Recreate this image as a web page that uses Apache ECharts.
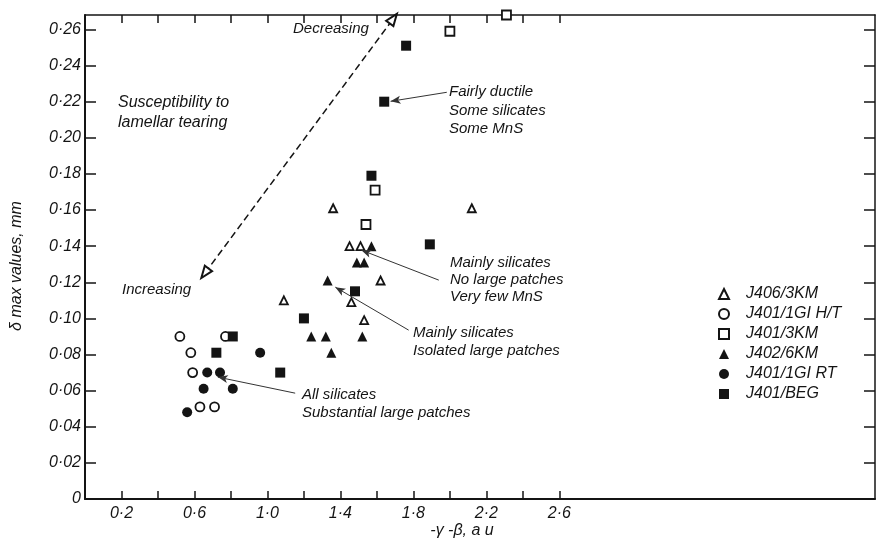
<!DOCTYPE html>
<html><head><meta charset="utf-8">
<script src="https://cdn.jsdelivr.net/npm/echarts@6/dist/echarts.min.js"></script>
<style>html,body{margin:0;padding:0;background:#fff}#c{width:882px;height:541px}</style>
</head><body><div id="c"></div>
<script>
// ---- data ----
const seriesNames = ['J406/3KM', 'J401/1GI H/T', 'J401/3KM', 'J402/6KM', 'J401/1GI RT', 'J401/BEG'];
const j406_3KM = [[1.36,0.161],[2.12,0.161],[1.45,0.140],[1.51,0.140],[1.62,0.121],[1.46,0.109],[1.09,0.110],[1.53,0.099]];
const j401_1GI_HT = [[0.52,0.090],[0.77,0.090],[0.58,0.081],[0.59,0.070],[0.63,0.051],[0.71,0.051]];
const j401_3KM = [[2.31,0.268],[2.00,0.259],[1.59,0.171],[1.54,0.152]];
const j402_6KM = [[1.57,0.140],[1.49,0.131],[1.53,0.131],[1.33,0.121],[1.24,0.090],[1.32,0.090],[1.52,0.090],[1.35,0.081]];
const j401_1GI_RT = [[0.96,0.081],[0.67,0.070],[0.74,0.070],[0.65,0.061],[0.81,0.061],[0.56,0.048]];
const j401_BEG = [[1.76,0.251],[1.64,0.220],[1.57,0.179],[1.89,0.141],[1.48,0.115],[1.20,0.100],[0.81,0.090],[0.72,0.081],[1.07,0.070]];
const xTickValues = [0.2,0.4,0.6,0.8,1.0,1.2,1.4,1.6,1.8,2.0,2.2,2.4,2.6];
const xLabelValues = [0.2,0.6,1.0,1.4,1.8,2.2,2.6];
const yTickValues = [0,0.02,0.04,0.06,0.08,0.10,0.12,0.14,0.16,0.18,0.20,0.22,0.24,0.26];
// annotation arrows (data coordinates)
const trendArrow = [[0.657,0.125],[1.69,0.266]];
const calloutArrows = [
  [[1.983,0.2252],[1.675,0.2202]],
  [[1.939,0.1212],[1.515,0.1378]],
  [[1.774,0.0935],[1.372,0.1173]],
  [[1.152,0.0586],[0.728,0.0675]]
];

const INK = '#141414';
const FONT = '"Liberation Sans", Arial, sans-serif';
const yFmt = v => (Math.abs(v) < 1e-9 ? '0' : v.toFixed(2).replace('.', '·'));
const xFmt = v => v.toFixed(1).replace('.', '·');

const openStyle = {color: '#fff', borderColor: INK, borderWidth: 1.8, opacity: 1};
const fillStyle = {color: INK, borderColor: INK, borderWidth: 0, opacity: 1};

function sc(name, data, symbol, size, style) {
  return {name, type: 'scatter', data, symbol, symbolSize: size, itemStyle: style,
    clip: false, xAxisIndex: 0, yAxisIndex: 0, emphasis: {disabled: true}, z: 3};
}

const chart = echarts.init(document.getElementById('c'), null, {renderer: 'canvas'});
const axisCommon = {
  axisLine: {show: true, onZero: false, lineStyle: {color: INK, width: 2}},
  splitLine: {show: false}
};
const option = {
  backgroundColor: '#fff',
  animation: false,
  grid: {left: 85, right: 7, top: 15, bottom: 42, containLabel: false},
  xAxis: [
    Object.assign({}, axisCommon, {type: 'value', position: 'bottom', min: 0, max: 4.33,
      axisTick: {show: true, inside: true, length: 8, lineStyle: {color: INK, width: 1.5}, customValues: xTickValues},
      axisLabel: {show: true, customValues: xLabelValues, formatter: xFmt, margin: 7,
        fontFamily: FONT, fontStyle: 'italic', fontSize: 16, color: INK}}),
    Object.assign({}, axisCommon, {type: 'value', position: 'top', min: 0, max: 4.33,
      axisLine: {show: true, onZero: false, lineStyle: {color: INK, width: 1.5}},
      axisTick: {show: true, inside: true, length: 8, lineStyle: {color: INK, width: 1.5}, customValues: xTickValues},
      axisLabel: {show: false}})
  ],
  yAxis: [
    Object.assign({}, axisCommon, {type: 'value', position: 'left', min: 0, max: 0.268,
      axisTick: {show: true, inside: true, length: 11, lineStyle: {color: INK, width: 1.5}, customValues: yTickValues},
      axisLabel: {show: true, customValues: yTickValues, formatter: yFmt, margin: 4,
        fontFamily: FONT, fontStyle: 'italic', fontSize: 16, color: INK}}),
    Object.assign({}, axisCommon, {type: 'value', position: 'right', min: 0, max: 0.268,
      axisLine: {show: true, onZero: false, lineStyle: {color: INK, width: 1.5}},
      axisTick: {show: true, inside: true, length: 11, lineStyle: {color: INK, width: 1.5}, customValues: yTickValues},
      axisLabel: {show: false}})
  ],
  legend: {
    orient: 'vertical', left: 713, top: 281, data: seriesNames,
    itemWidth: 10, itemHeight: 10, itemGap: 4, selectedMode: false, symbolKeepAspect: true,
    textStyle: {fontFamily: FONT, fontStyle: 'italic', fontSize: 16, lineHeight: 16, color: INK, padding: [0,0,0,12]}
  },
  series: [
    sc(seriesNames[0], j406_3KM, 'triangle', 8, openStyle),
    sc(seriesNames[1], j401_1GI_HT, 'circle', 9, openStyle),
    sc(seriesNames[2], j401_3KM, 'rect', 9, openStyle),
    sc(seriesNames[3], j402_6KM, 'triangle', 10, fillStyle),
    sc(seriesNames[4], j401_1GI_RT, 'circle', 10, fillStyle),
    sc(seriesNames[5], j401_BEG, 'rect', 10, fillStyle),
    {
      name: 'trend', type: 'scatter', data: [], xAxisIndex: 0, yAxisIndex: 0, silent: true,
      markLine: {
        silent: true, animation: false,
        symbol: ['emptyTriangle', 'emptyTriangle'], symbolSize: [9, 12],
        lineStyle: {color: INK, width: 1.5, type: [7, 4]},
        label: {show: false}, emphasis: {disabled: true},
        data: [[{coord: trendArrow[0]}, {coord: trendArrow[1]}]]
      }
    },
    {
      name: 'callouts', type: 'scatter', data: [], xAxisIndex: 0, yAxisIndex: 0, silent: true,
      markLine: {
        silent: true, animation: false,
        symbol: ['none', 'arrow'], symbolSize: [6, 10],
        lineStyle: {color: '#333', width: 1, type: 'solid'},
        label: {show: false}, emphasis: {disabled: true},
        data: calloutArrows.map(a => [{coord: a[0]}, {coord: a[1]}])
      }
    }
  ],
  graphic: []
};

function txt(x, y, text, opts) {
  return {
    type: 'text', x, y, silent: true, z: 10,
    style: Object.assign({text, fill: INK, font: 'italic 15px ' + FONT, align: 'left', verticalAlign: 'top', lineHeight: 18.5}, opts || {})
  };
}
option.graphic = [
  txt(118, 93, 'Susceptibility to\nlamellar tearing', {font: 'italic 16px ' + FONT, lineHeight: 19.5}),
  txt(293, 29, 'Decreasing', {verticalAlign: 'middle', font: 'italic 15px ' + FONT}),
  txt(122, 290, 'Increasing', {verticalAlign: 'middle', font: 'italic 15px ' + FONT}),
  txt(449, 83, 'Fairly ductile\nSome silicates\nSome MnS', {lineHeight: 18.5}),
  txt(450, 254.5, 'Mainly silicates\nNo large patches\nVery few MnS', {lineHeight: 17}),
  txt(413, 324.5, 'Mainly silicates\nIsolated large patches', {lineHeight: 17.5}),
  txt(302, 386, 'All silicates\nSubstantial large patches', {lineHeight: 18}),
  txt(462, 531, '-γ -β, a u', {align: 'center', verticalAlign: 'middle', font: 'italic 16px ' + FONT}),
  {type: 'text', x: 17, y: 266, rotation: Math.PI / 2, silent: true,
   style: {text: 'δ max values, mm', fill: INK, font: 'italic 16px ' + FONT, align: 'center', verticalAlign: 'middle'}}
];
chart.setOption(option);
</script></body></html>
